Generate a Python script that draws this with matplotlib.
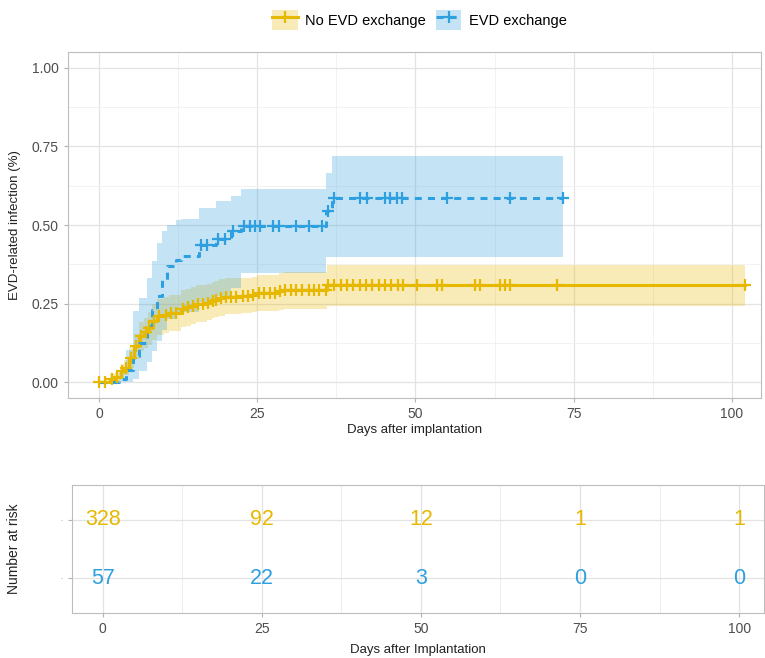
import numpy as np
import matplotlib
matplotlib.use("Agg")
import matplotlib.pyplot as plt
from matplotlib.patches import Patch
from matplotlib.lines import Line2D

plt.rcParams['font.family'] = ['Liberation Sans', 'DejaVu Sans']

# cumulative incidence, No EVD exchange
t_no = [0, 1.8, 2.6, 3.4, 4.0, 4.7, 5.5, 6.3, 7.1, 7.7, 8.4, 9.2, 10.3, 11.1, 12.9, 13.7,
        14.5, 15.3, 17.0, 17.8, 18.3, 19.0, 19.9, 22.4, 24.2, 25.0, 28.4, 29.2, 36.0]
v_no = [0, .011, .016, .035, .046, .078, .115, .148, .159, .173, .194, .210, .215, .220, .233, .239,
        .243, .250, .252, .257, .262, .268, .271, .273, .278, .284, .289, .294, .310]
lo_no = [0, .000, .002, .015, .022, .045, .075, .100, .110, .120, .135, .150, .158, .162, .175, .180,
         .185, .192, .198, .203, .207, .212, .216, .220, .224, .228, .230, .233, .241]
hi_no = [0, .025, .032, .058, .072, .112, .155, .192, .205, .222, .248, .265, .272, .278, .292, .298,
         .302, .310, .312, .318, .322, .328, .330, .332, .336, .342, .346, .350, .374]
cens_no = [0, 1.0, 2.1, 2.9, 3.7, 4.2, 5.0, 5.8, 6.6, 7.4, 7.9, 8.7, 9.5, 10.6, 11.4, 12.1, 13.2,
           14.0, 14.8, 15.6, 16.4, 17.2, 18.0, 18.5, 19.3, 20.1, 20.9, 21.7, 22.7, 23.5, 24.4,
           25.2, 26.0, 27.0, 27.8, 28.6, 29.4, 30.4, 31.2, 32.0, 33.1, 33.9, 34.7, 35.8, 36.2,
           37.2, 38.2, 39.2, 40.2, 41.2, 42.2, 43.2, 44.3, 45.2, 46.2, 47.2, 48.1, 50.2, 53.4,
           54.2, 59.4, 60.2, 63.3, 64.2, 65.0, 72.3, 102.0]

# cumulative incidence, EVD exchange
t_ex = [0, 3.1, 4.2, 5.3, 6.3, 7.6, 8.4, 9.2, 10.0, 10.8, 12.1, 12.9, 15.8, 18.5, 20.9, 22.5, 35.9, 36.8]
v_ex = [0, .009, .040, .083, .125, .178, .231, .273, .326, .369, .390, .403, .438, .456, .480, .498, .543, .586]
lo_ex = [0, .000, .000, .010, .035, .065, .100, .130, .165, .200, .215, .225, .255, .275, .300, .348, .398, .398]
hi_ex = [0, .030, .104, .226, .268, .330, .385, .443, .482, .500, .517, .520, .554, .575, .591, .614, .665, .718]
cens_ex = [16.1, 17.0, 18.8, 19.9, 21.2, 22.9, 23.8, 24.6, 25.4, 27.5, 28.5, 31.2, 33.1, 35.2,
           36.2, 37.2, 41.2, 42.3, 45.2, 46.0, 47.1, 47.9, 55.0, 65.0, 73.3]

risk_times = [0, 25, 50, 75, 100]
risk_no = [328, 92, 12, 1, 1]
risk_ex = [57, 22, 3, 0, 0]

col_no = '#E7B800'
col_ex = '#2E9FDF'
dash = (0, (2.3, 2.0))

fig = plt.figure(figsize=(7.65, 6.58), dpi=100)
ax = fig.add_axes([0.0889, 0.3951, 0.9059, 0.5259])


def draw(t, v, lo, hi, cens, color, ls):
    t = np.array(t)
    v = np.array(v)
    end = max(cens)
    te = np.append(t, end)
    ax.fill_between(te, np.append(lo, lo[-1]), np.append(hi, hi[-1]), step='post',
                    color=color, alpha=0.28, lw=0, zorder=2)
    ax.step(te, np.append(v, v[-1]), where='post', color=color, lw=2.2,
            linestyle=ls, zorder=3)
    idx = np.searchsorted(t, cens, side='right') - 1
    ax.plot(cens, v[idx], ls='none', marker='+', ms=8, mew=1.6, color=color, zorder=4)


draw(t_no, v_no, lo_no, hi_no, cens_no, col_no, '-')
draw(t_ex, v_ex, lo_ex, hi_ex, cens_ex, col_ex, dash)

ax.set_xlim(-4.9, 104.6)
ax.set_ylim(-0.05, 1.05)
ax.set_xticks([0, 25, 50, 75, 100])
ax.set_xticks([12.5, 37.5, 62.5, 87.5], minor=True)
ax.set_yticks([0, 0.25, 0.5, 0.75, 1.0])
ax.set_yticklabels(['0.00', '0.25', '0.50', '0.75', '1.00'])
ax.set_yticks([0.125, 0.375, 0.625, 0.875], minor=True)
ax.grid(which='major', color='#E3E3E3', lw=0.9, zorder=0)
ax.grid(which='minor', color='#F0F0F0', lw=0.6, zorder=0)
ax.set_axisbelow(True)
for s in ax.spines.values():
    s.set_color('#BDBDBD')
ax.tick_params(which='major', color='#B3B3B3', length=3, labelsize=10, labelcolor='#4D4D4D')
ax.tick_params(which='minor', length=0)
ax.set_xlabel('Days after implantation', fontsize=9.5, color='#222222', labelpad=2)
ax.set_ylabel('EVD-related infection (%)', fontsize=9.5, color='#222222')
ax.yaxis.set_label_coords(-0.068, 0.5)

# legend
h_no = (Patch(facecolor=col_no, alpha=0.28, lw=0),
        Line2D([], [], color=col_no, lw=2.2, marker='+', ms=8, mew=1.6))
h_ex = (Patch(facecolor=col_ex, alpha=0.28, lw=0),
        Line2D([], [], color=col_ex, lw=2.2, ls=dash, marker='+', ms=8, mew=1.6))
fig.legend([h_no, h_ex], ['No EVD exchange', 'EVD exchange'], loc='upper center',
           bbox_to_anchor=(0.548, 1.005), ncol=2, frameon=False, fontsize=10.5,
           handlelength=1.75, handleheight=1.75, handletextpad=0.5, columnspacing=0.7)

# risk table
ax2 = fig.add_axes([0.0941, 0.0684, 0.9046, 0.1945])
for x, n1, n2 in zip(risk_times, risk_no, risk_ex):
    ax2.text(x, 2, str(n1), color=col_no, fontsize=15.5, ha='center', va='center')
    ax2.text(x, 1, str(n2), color=col_ex, fontsize=15.5, ha='center', va='center')
ax2.set_xlim(-4.82, 103.9)
ax2.set_ylim(0.4, 2.6)
ax2.set_xticks(risk_times)
ax2.set_xticks([12.5, 37.5, 62.5, 87.5], minor=True)
ax2.set_yticks([1, 2])
ax2.set_yticklabels(['-', '-'], fontsize=5)
for lab, c in zip(ax2.get_yticklabels(), [col_ex, col_no]):
    lab.set_color(c)
    lab.set_alpha(0.4)
ax2.grid(which='major', color='#E3E3E3', lw=0.9)
ax2.grid(which='minor', axis='x', color='#EDEDED', lw=0.7)
ax2.set_axisbelow(True)
for s in ax2.spines.values():
    s.set_color('#BDBDBD')
ax2.tick_params(which='major', color='#B3B3B3', length=3, labelsize=10, labelcolor='#4D4D4D')
ax2.tick_params(axis='y', labelsize=5)
ax2.tick_params(which='minor', length=0)
ax2.set_xlabel('Days after Implantation', fontsize=9.5, color='#222222', labelpad=6)
ax2.set_ylabel('Number at risk', fontsize=10, color='#222222')
ax2.yaxis.set_label_coords(-0.074, 0.5)

fig.savefig('out.png', dpi=100)
